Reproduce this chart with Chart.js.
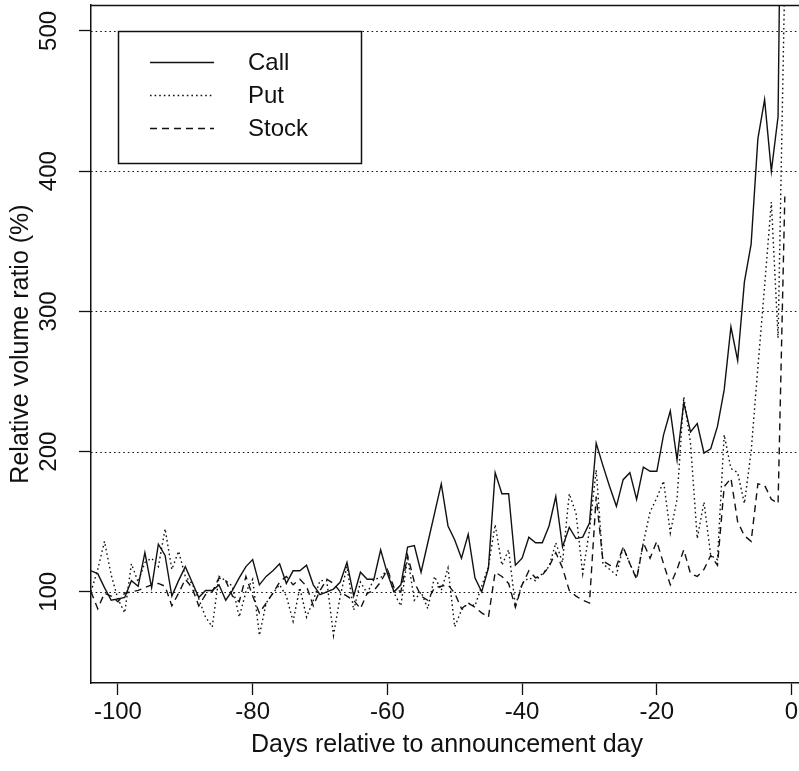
<!DOCTYPE html>
<html>
<head>
<meta charset="utf-8">
<script src="https://cdn.jsdelivr.net/npm/chart.js@4.4.1/dist/chart.umd.min.js"></script>
<style>
html,body{margin:0;padding:0;background:#fff;overflow:hidden;}
#wrap{width:799px;height:771px;overflow:hidden;position:relative;}
canvas{display:block;}
</style>
</head>
<body>
<div id="wrap"><canvas id="c" width="830" height="771" style="width:830px;height:771px"></canvas></div>
<script>
// ---- data ----
const days = [];
for (let d = -104; d <= -1; d++) days.push(d);

const callValues = [
115,113,103,94,95,96,108,104,128,103,
134,126,97,108,118,107,96,101,101,105,
94,101,110,118,123,105,111,115,120,106,
115,115,119,105,98,100,102,107,121,97,
114,109,109,130,113,100,105,132,133,114,
135,156,177,147,137,124,141,110,100,117,
185,170,170,119,124,139,135,135,147,168,
132,146,138,139,149,206,190,175,161,180,
185,166,189,186,186,212,229,194,235,214,
220,199,202,218,244,289,265,321,348,423,
451,400,439,870
];
const putValues = [
100,116,136,112,95,85,120,107,121,124,
118,145,116,129,111,106,95,82,75,111,
108,104,82,100,109,69,92,99,105,97,
79,103,82,94,108,108,69,97,118,87,
107,99,109,110,116,99,90,125,94,100,
88,111,101,117,75,87,92,90,104,118,
148,119,130,90,106,110,108,113,118,135,
121,170,156,113,144,187,120,116,112,132,
120,110,135,157,167,179,142,166,239,206,
138,164,126,123,212,188,185,163,200,260,
318,378,281,540
];
const stockValues = [
100,88,99,97,93,99,100,101,103,105,
106,104,90,99,109,103,90,98,100,110,
108,97,93,111,97,85,92,99,107,111,
105,109,104,90,101,109,106,100,97,94,
88,99,101,107,116,103,100,126,107,97,
94,103,104,105,99,88,92,89,85,82,
114,111,106,89,105,115,110,112,118,128,
117,101,97,94,92,168,122,119,118,132,
120,109,135,124,136,120,105,116,130,113,
111,116,126,119,175,181,150,140,136,177,
176,166,163,382
];
const xTickValues = [-100, -80, -60, -40, -20, 0];
const yTickValues = [100, 200, 300, 400, 500];
const seriesNames = ['Call', 'Put', 'Stock'];

// ---- styles ----
const FONT = '"Liberation Sans", Arial, Helvetica, sans-serif';
const INK = '#111';
const dashes = { Call: [], Put: [1.6, 3], Stock: [7, 5] };

function pts(vals) { return days.map((d, i) => ({ x: d, y: vals[i] })); }

const frame = {
  id: 'frame',
  beforeDatasetsDraw(chart) {
    const { ctx, chartArea: a, scales: { y } } = chart;
    ctx.save();
    ctx.strokeStyle = INK;
    ctx.lineWidth = 1.1;
    ctx.setLineDash([1.6, 3]);
    yTickValues.forEach(v => {
      const py = Math.round(y.getPixelForValue(v)) + 0.5;
      ctx.beginPath(); ctx.moveTo(a.left, py); ctx.lineTo(a.right, py); ctx.stroke();
    });
    ctx.restore();
  },
  afterDraw(chart) {
    const { ctx, chartArea: a, scales: { y } } = chart;
    ctx.save();
    // top border
    ctx.strokeStyle = INK; ctx.lineWidth = 1.5; ctx.setLineDash([]);
    ctx.beginPath(); ctx.moveTo(a.left, a.top + 0.5); ctx.lineTo(a.right, a.top + 0.5); ctx.stroke();
    // y tick labels rotated
    ctx.fillStyle = INK;
    ctx.font = '24px ' + FONT;
    ctx.textAlign = 'center';
    ctx.textBaseline = 'alphabetic';
    yTickValues.forEach(v => {
      const py = y.getPixelForValue(v);
      ctx.save(); ctx.translate(56, py); ctx.rotate(-Math.PI / 2);
      ctx.fillText(String(v), 0, 0); ctx.restore();
    });
    // y title
    ctx.font = '25px ' + FONT;
    ctx.save(); ctx.translate(28, (a.top + a.bottom) / 2); ctx.rotate(-Math.PI / 2);
    ctx.fillText('Relative volume ratio (%)', 0, 0); ctx.restore();
    // legend
    ctx.font = '24px ' + FONT;
    ctx.lineWidth = 1.5; ctx.setLineDash([]);
    ctx.strokeRect(118.5, 31.5, 243, 132);
    const ly = [62, 95, 128];
    seriesNames.forEach((n, i) => {
      ctx.lineWidth = 1.4;
      ctx.setLineDash(dashes[n]);
      ctx.beginPath(); ctx.moveTo(150, ly[i] + 0.5); ctx.lineTo(214, ly[i] + 0.5); ctx.stroke();
      ctx.setLineDash([]);
      ctx.textAlign = 'left'; ctx.textBaseline = 'middle';
      ctx.fillText(n, 248, ly[i] + 1);
    });
    ctx.restore();
  }
};

new Chart(document.getElementById('c'), {
  type: 'line',
  data: {
    datasets: [
      { label: 'Call', data: pts(callValues), borderColor: INK, borderWidth: 1.4, borderDash: dashes.Call },
      { label: 'Put', data: pts(putValues), borderColor: INK, borderWidth: 1.4, borderDash: dashes.Put },
      { label: 'Stock', data: pts(stockValues), borderColor: INK, borderWidth: 1.4, borderDash: dashes.Stock }
    ]
  },
  options: {
    responsive: false,
    animation: false,
    devicePixelRatio: 1,
    elements: { point: { radius: 0 }, line: { tension: 0, fill: false } },
    layout: { padding: { left: 0, top: 5, right: 27, bottom: 0 } },
    plugins: { legend: { display: false }, tooltip: { enabled: false } },
    scales: {
      x: {
        type: 'linear', min: -104, max: 1.7,
        afterBuildTicks: s => { s.ticks = xTickValues.map(v => ({ value: v })); },
        afterFit: s => { s.height = 88; },
        ticks: { color: INK, font: { size: 24, family: FONT }, padding: 3, maxRotation: 0, autoSkip: false, callback: v => String(v) },
        grid: { drawOnChartArea: false, drawTicks: true, tickLength: 12, tickColor: INK, tickWidth: 1.3 },
        border: { display: true, color: INK, width: 1.5 },
        title: { display: true, text: 'Days relative to announcement day', color: INK, font: { size: 25, family: FONT }, padding: { top: 0, bottom: 11 } }
      },
      y: {
        type: 'linear', min: 35, max: 518.5,
        afterBuildTicks: s => { s.ticks = yTickValues.map(v => ({ value: v })); },
        afterFit: s => { s.width = 91; },
        ticks: { display: false },
        grid: { drawOnChartArea: false, drawTicks: true, tickLength: 12, tickColor: INK, tickWidth: 1.3 },
        border: { display: true, color: INK, width: 1.5 }
      }
    }
  },
  plugins: [frame]
});
</script>
</body>
</html>
